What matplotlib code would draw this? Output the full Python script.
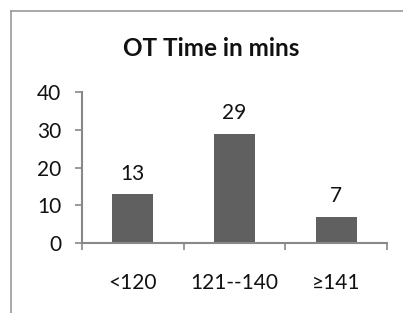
import matplotlib.pyplot as plt
from matplotlib.lines import Line2D

# data
categories = ["<120", "121--140", "≥141"]
values = [13, 29, 7]
y_ticks = [0, 10, 20, 30, 40]

plt.rcParams['font.family'] = ['Lato', 'DejaVu Sans']

fig = plt.figure(figsize=(4.03, 3.13), dpi=100)
ax = fig.add_axes([82 / 403, 1 - 243 / 313, 305 / 403, 151 / 313])

x = list(range(len(categories)))
ax.bar(x, values, width=0.4, color="#606060")

# value labels above bars
for xi, v in zip(x, values):
    ax.annotate(str(v), (xi, v), xytext=(0, 7.5), textcoords="offset points",
                ha="center", va="bottom", fontsize=15, color="#111111")

ax.set_xlim(-0.5, len(categories) - 0.5)
ax.set_ylim(0, 40)
ax.set_yticks(y_ticks)
ax.tick_params(axis="y", labelsize=15, length=5, width=1.2, color="#888888",
               labelcolor="#111111", pad=10)

# category labels sit well below the axis, tick marks at category boundaries
ax.set_xticks([i - 0.5 for i in range(len(categories) + 1)])
ax.set_xticklabels([])
ax.tick_params(axis="x", length=5, width=1.2, color="#888888")
for xi, c in zip(x, categories):
    ax.text(xi, -10.6, c, ha="center", va="center", fontsize=15, color="#111111")

for s in ["top", "right"]:
    ax.spines[s].set_visible(False)
for s in ["left", "bottom"]:
    ax.spines[s].set_color("#888888")
    ax.spines[s].set_linewidth(1.5)

fig.text(211 / 403, 1 - 48 / 313, "OT Time in mins", ha="center", va="center",
         fontsize=17.5, fontweight="bold", color="#111111")

# chart area border (only left and top visible in the crop)
fig.add_artist(Line2D([11 / 403, 11 / 403], [0, 1 - 11 / 313], color="#999999", lw=1.2))
fig.add_artist(Line2D([11 / 403, 1], [1 - 11 / 313, 1 - 11 / 313], color="#999999", lw=1.2))

fig.savefig("out.png", dpi=100)
